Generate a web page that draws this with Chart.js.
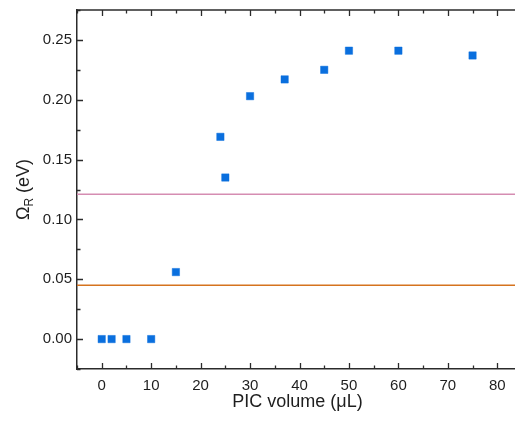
<!DOCTYPE html>
<html>
<head>
<meta charset="utf-8">
<script src="https://cdn.jsdelivr.net/npm/chart.js@4/dist/chart.umd.min.js"></script>
<style>
  html, body { margin: 0; padding: 0; background: #fff; overflow: hidden; }
  #wrap { width: 515px; height: 427px; overflow: hidden; }
</style>
</head>
<body>
<div id="wrap"><canvas id="js-omega__chart" width="530" height="427"></canvas></div>
<script>
// Rabi splitting vs PIC volume
const picVolume = [0, 2, 5, 10, 15, 24, 25, 30, 37, 45, 50, 60, 75];
const omegaR = [0, 0, 0, 0, 0.056, 0.169, 0.135, 0.203, 0.217, 0.225, 0.241, 0.241, 0.237];

// reference levels
const upperLevel = 0.121;
const lowerLevel = 0.045;

const xRange = [-5, 85];
const yRange = [-0.025, 0.275];
const xTicks = [0, 10, 20, 30, 40, 50, 60, 70, 80];
const yTicks = [0, 0.05, 0.10, 0.15, 0.20, 0.25];

const axisColor = '#2b2b2b';
const textColor = '#1e1e1e';
const fontFamily = '"Liberation Sans", Arial, sans-serif';

const levelLine = (value, color) => ({
  type: 'line',
  data: xRange.map(x => ({ x: x, y: value })),
  borderColor: color,
  borderWidth: 1.6,
  pointRadius: 0,
  order: 2
});

// inward major/minor ticks, top frame line, axis titles
const framePlugin = {
  id: 'frame',
  afterDraw(chart) {
    const { ctx, chartArea: a, scales: { x, y } } = chart;
    ctx.save();
    ctx.strokeStyle = axisColor;
    ctx.lineWidth = 1.5;
    ctx.beginPath();
    ctx.moveTo(a.left, a.top);
    ctx.lineTo(a.right, a.top);
    ctx.stroke();

    ctx.lineWidth = 1.3;
    ctx.beginPath();
    for (let v = xRange[0]; v <= xRange[1]; v += 5) {
      const px = Math.round(x.getPixelForValue(v)) + 0.5;
      const len = v % 10 === 0 ? 6 : 3.5;
      ctx.moveTo(px, a.bottom);
      ctx.lineTo(px, a.bottom - len);
      ctx.moveTo(px, a.top);
      ctx.lineTo(px, a.top + len);
    }
    for (let i = -1; i <= 11; i++) {
      const v = i * 0.025;
      const py = Math.round(y.getPixelForValue(v)) + 0.5;
      const len = i % 2 === 0 ? 6 : 3.5;
      ctx.moveTo(a.left, py);
      ctx.lineTo(a.left + len, py);
    }
    ctx.stroke();

    ctx.fillStyle = textColor;
    ctx.textAlign = 'center';
    ctx.textBaseline = 'alphabetic';
    ctx.font = '18px ' + fontFamily;
    ctx.fillText('PIC volume (\u03bcL)', (a.left + a.right) / 2 - 2, 407);

    // y title with subscript, rotated
    ctx.translate(29, (a.top + a.bottom) / 2);
    ctx.rotate(-Math.PI / 2);
    ctx.textAlign = 'left';
    const big = '18px ' + fontFamily;
    const small = '12px ' + fontFamily;
    ctx.font = big;
    const wO = ctx.measureText('\u03a9').width;
    const wT = ctx.measureText(' (eV)').width;
    ctx.font = small;
    const wR = ctx.measureText('R').width;
    let cx = -(wO + wR + wT) / 2;
    ctx.font = big;
    ctx.fillText('\u03a9', cx, 0);
    cx += wO;
    ctx.font = small;
    ctx.fillText('R', cx, 4);
    cx += wR;
    ctx.font = big;
    ctx.fillText(' (eV)', cx, 0);
    ctx.restore();
  }
};

const omegaConfig = {
  type: 'scatter',
  data: {
    datasets: [
      {
        label: 'Omega R',
        data: picVolume.map((v, i) => ({ x: v, y: omegaR[i] })),
        pointStyle: 'rect',
        pointRadius: 5.2,
        backgroundColor: '#0a6fde',
        borderColor: 'rgba(10, 111, 222, 0.45)',
        borderWidth: 1,
        order: 1
      },
      levelLine(upperLevel, '#d58db2'),
      levelLine(lowerLevel, '#d5731e')
    ]
  },
  options: {
    responsive: false,
    animation: false,
    layout: { padding: { top: 10, right: 8, left: 0, bottom: 0 } },
    plugins: {
      legend: { display: false },
      tooltip: { enabled: false }
    },
    scales: {
      x: {
        type: 'linear',
        min: xRange[0],
        max: xRange[1],
        afterBuildTicks: s => { s.ticks = xTicks.map(v => ({ value: v })); },
        afterFit: s => {
          s.height = 58;
          s.paddingLeft = 0;
          s.paddingRight = 0;
        },
        grid: { display: false, drawTicks: false },
        border: { display: true, color: axisColor, width: 1.5 },
        ticks: {
          padding: 8,
          color: textColor,
          font: { family: fontFamily, size: 15 },
          maxRotation: 0
        }
      },
      y: {
        type: 'linear',
        min: yRange[0],
        max: yRange[1],
        afterBuildTicks: s => { s.ticks = yTicks.map(v => ({ value: v })); },
        afterFit: s => {
          s.width = 77;
          s.paddingTop = 0;
          s.paddingBottom = 0;
        },
        grid: { display: false, drawTicks: false },
        border: { display: true, color: axisColor, width: 1.5 },
        ticks: {
          padding: 5,
          color: textColor,
          font: { family: fontFamily, size: 15 },
          callback: v => v.toFixed(2)
        }
      }
    }
  },
  plugins: [framePlugin]
};

const omegaChart = new Chart(
  document.getElementById('js-omega__chart'),
  omegaConfig
);
</script>
</body>
</html>
